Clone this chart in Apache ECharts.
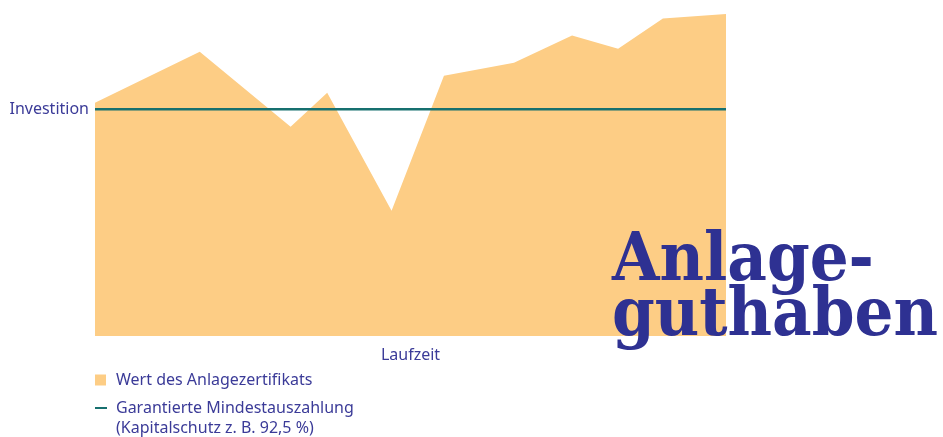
<!DOCTYPE html>
<html>
<head>
<meta charset="utf-8">
<script src="https://cdn.jsdelivr.net/npm/echarts@6/dist/echarts.min.js"></script>
<style>
  html, body { margin: 0; padding: 0; background: #fff; }
  #chart { width: 943px; height: 437px; }
</style>
</head>
<body>
<div id="chart"></div>
<script>
// Laufzeit (0..10) und Wert des Zertifikats (Investition = 100)
const laufzeit = [0, 1.66, 3.1, 3.68, 4.7, 5.53, 6.64, 7.56, 8.29, 9.0, 10];
const wert = [102.9, 125.4, 92.3, 107.3, 55.2, 114.8, 120.5, 132.5, 126.7, 140.0, 142];
const investition = 100;
const laufzeitEnde = 10;

const navy = "#3b3b98";
const orange = "#fdcd85";
const teal = "#17706f";

const nameWert = "Wert des Anlagezertifikats";
const nameGarantie = "Garantierte Mindestauszahlung";

const chart = echarts.init(document.getElementById("chart"));

chart.setOption({
  animation: false,
  grid: { left: 95, right: 217, top: 14, bottom: 101 },
  xAxis: {
    type: "value",
    min: 0,
    max: laufzeitEnde,
    name: "Laufzeit",
    nameLocation: "middle",
    nameGap: 11,
    nameTextStyle: { color: navy, fontSize: 16, fontFamily: "Noto Sans" },
    axisLine: { show: false },
    axisTick: { show: false },
    axisLabel: { show: false },
    splitLine: { show: false },
  },
  yAxis: {
    type: "value",
    min: 0,
    max: 142,
    interval: 100,
    axisLine: { show: false },
    axisTick: { show: false },
    splitLine: { show: false },
    axisLabel: {
      margin: 6,
      color: navy,
      fontSize: 16,
      fontFamily: "Noto Sans",
      padding: [0, 0, 4, 0],
      formatter: (v) => (v === investition ? "Investition" : ""),
    },
  },
  legend: [
    {
      left: 95,
      top: 372,
      padding: 0,
      itemWidth: 11,
      itemHeight: 11,
      selectedMode: false,
      textStyle: { color: navy, fontSize: 16, fontFamily: "Noto Sans", padding: [0, 0, 0, 5] },
      data: [{ name: nameWert, icon: "rect" }],
    },
    {
      left: 95,
      top: 400,
      padding: 0,
      itemWidth: 12,
      itemHeight: 2,
      selectedMode: false,
      textStyle: { color: navy, fontSize: 16, fontFamily: "Noto Sans", padding: [0, 0, 0, 4] },
      data: [{ name: nameGarantie, icon: "rect" }],
    },
  ],
  graphic: [
    {
      type: "text",
      left: 116,
      top: 420,
      style: {
        text: "(Kapitalschutz z. B. 92,5 %)",
        fill: navy,
        font: "16px 'Noto Sans'",
      },
    },
    {
      type: "text",
      left: 612,
      top: 228,
      scaleX: 0.9,
      z: 100,
      style: {
        text: "Anlage-\nguthaben",
        fill: "#2e3192",
        font: "bold 68px 'DejaVu Serif'",
        lineHeight: 55,
      },
    },
  ],
  series: [
    {
      name: nameWert,
      type: "line",
      symbol: "none",
      color: orange,
      lineStyle: { width: 0 },
      areaStyle: { color: orange, opacity: 1 },
      data: laufzeit.map((x, i) => [x, wert[i]]),
    },
    {
      name: nameGarantie,
      type: "line",
      symbol: "none",
      color: teal,
      lineStyle: { color: teal, width: 2.5 },
      data: [
        [0, investition],
        [laufzeitEnde, investition],
      ],
    },
  ],
});
</script>
</body>
</html>
